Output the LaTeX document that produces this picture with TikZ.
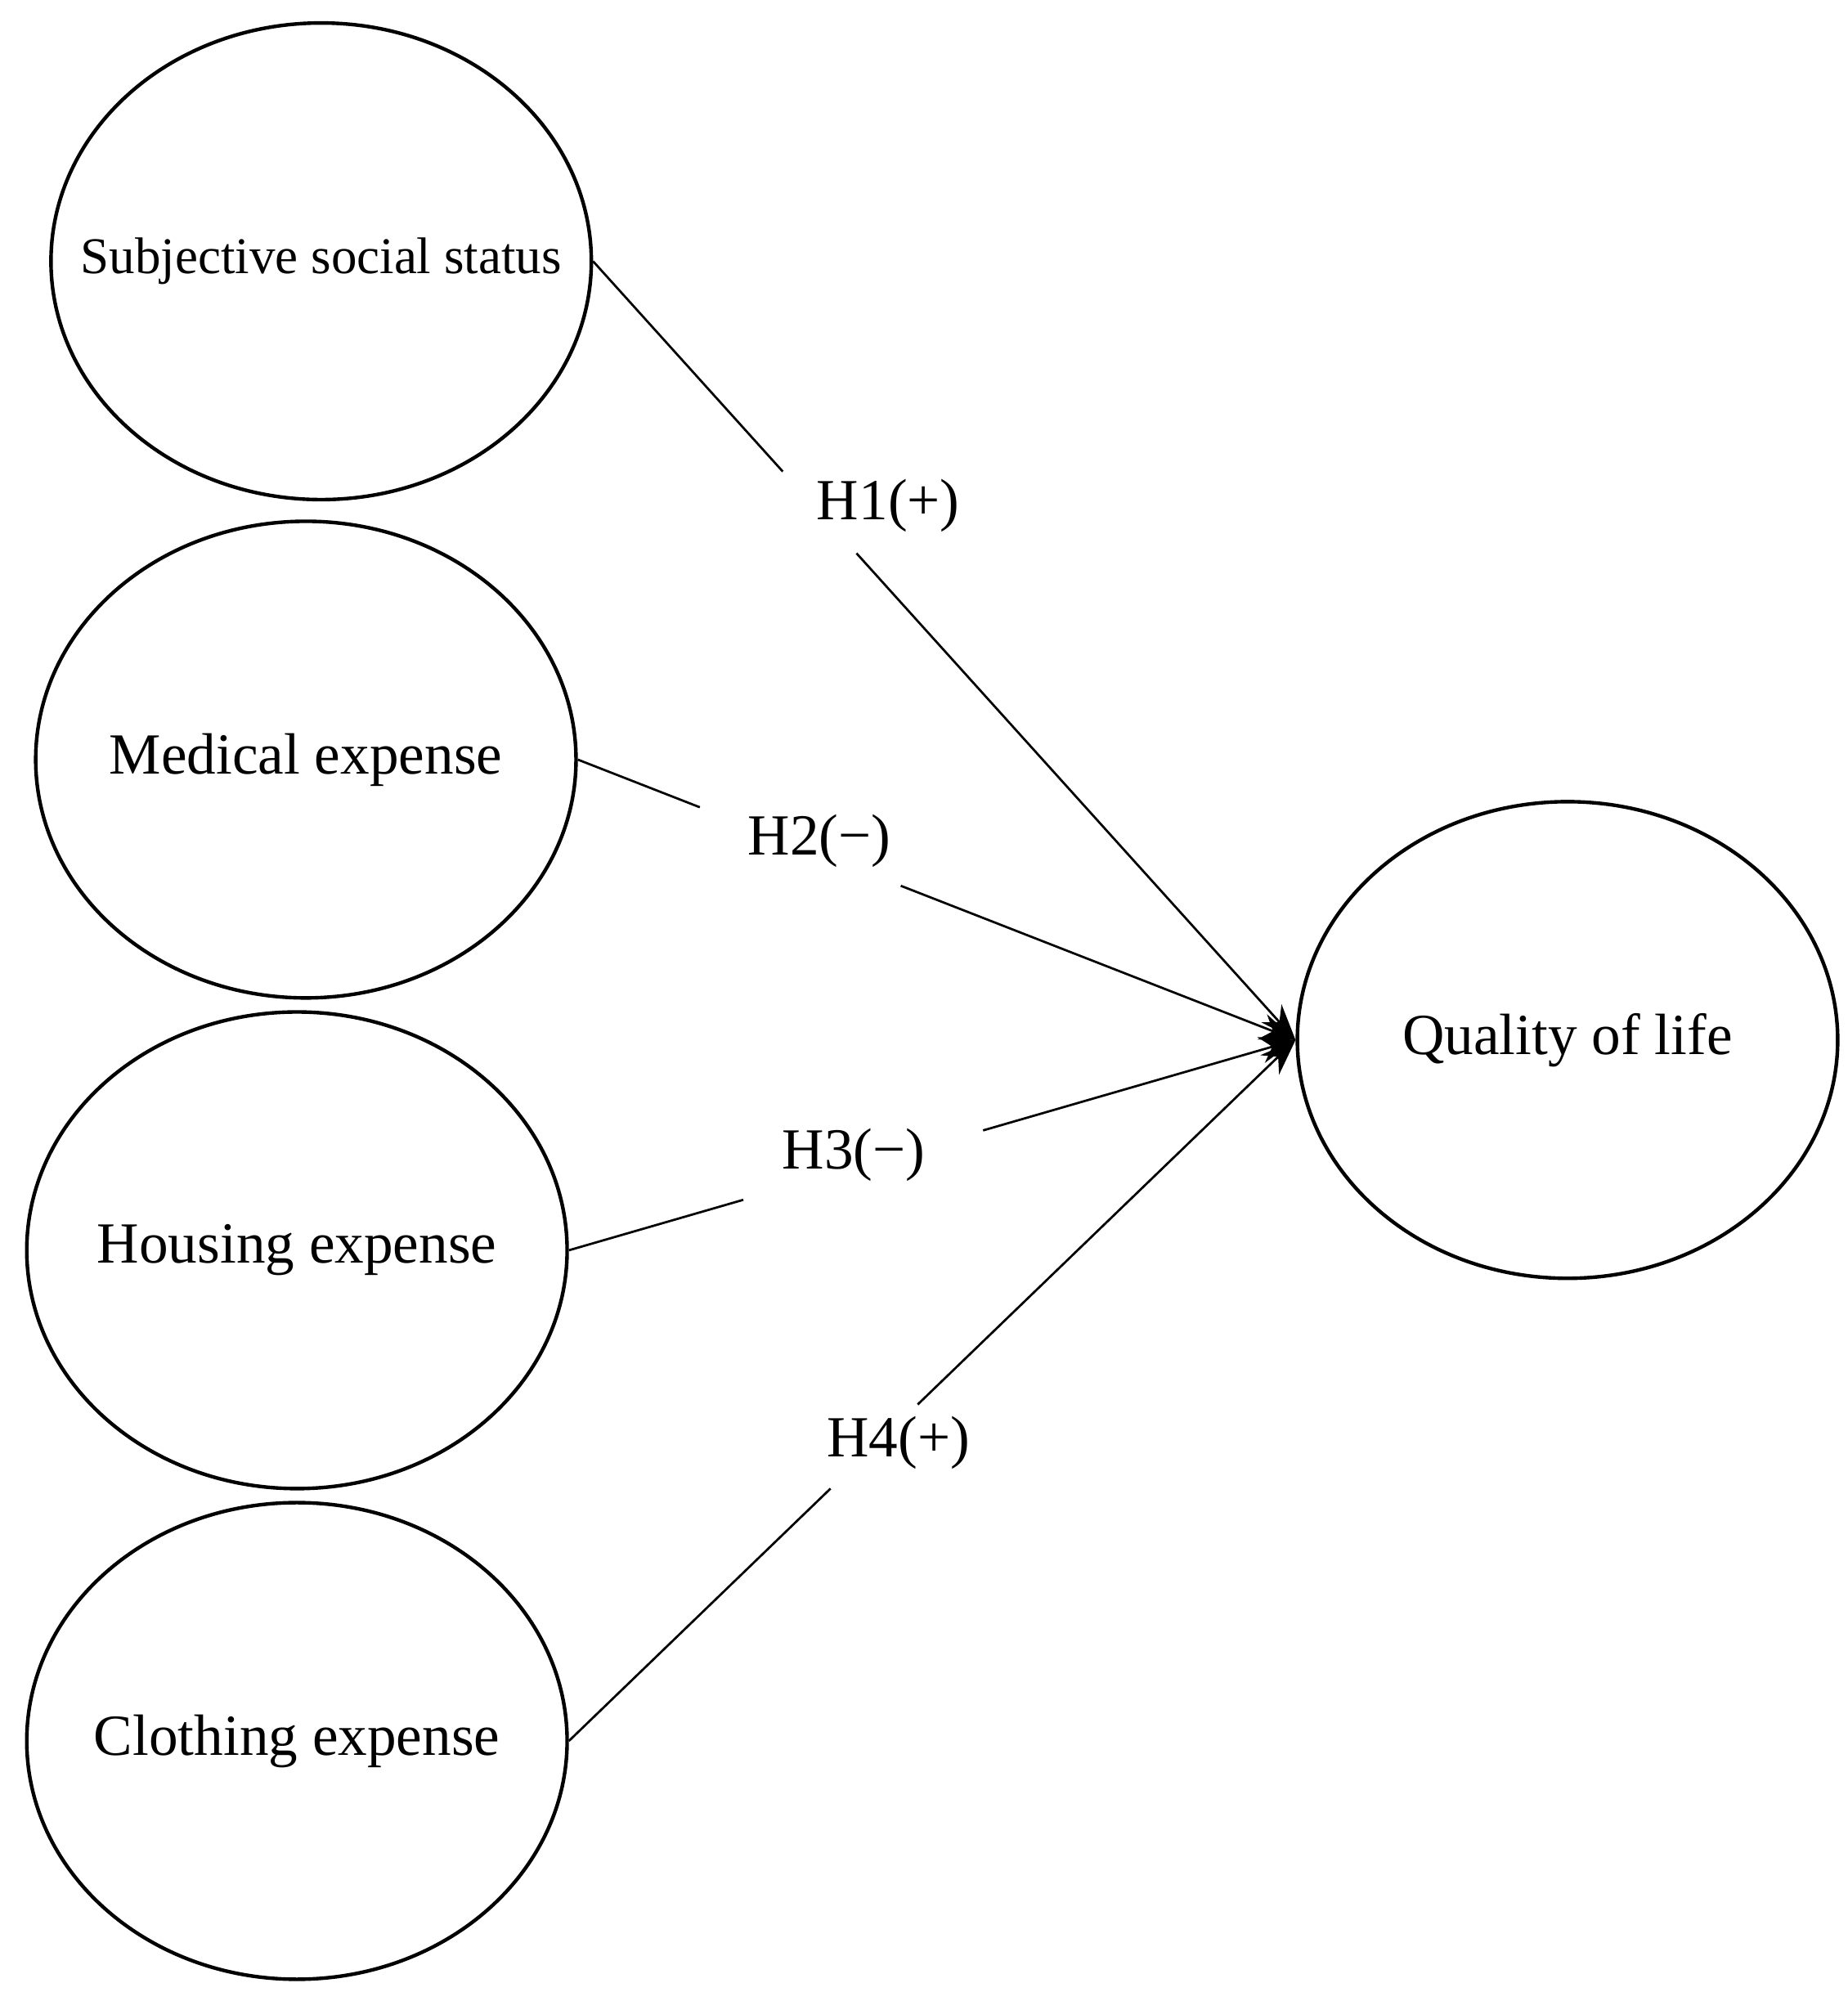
\documentclass[tikz,border=0pt]{standalone}
\usepackage{fontspec}
\setmainfont{Liberation Serif}
\usetikzlibrary{shapes.geometric,calc,arrows.meta}

\tikzset{
  construct/.style={draw, ellipse, thick, minimum width=4.24cm, minimum height=3.74cm, inner sep=0pt,
    label={[font=\fontsize{13}{15}\selectfont]center:#1}},
  hyp/.style={font=\fontsize{13}{15}\selectfont},
  path/.style={draw, line width=0.5pt}
}

\begin{document}
\begin{tikzpicture}
\useasboundingbox (0,0) rectangle (14.5,-15.63);
% constructs
\node[draw, ellipse, thick, minimum width=4.24cm, minimum height=3.74cm, inner sep=0pt,
  label={[font=\fontsize{11.5}{14}\selectfont]center:Subjective social status}] (sss) at (2.52,-2.05) {};
\node[construct=Medical expense] (med) at (2.40,-5.96) {};
\node[construct=Housing expense] (hou) at (2.33,-9.81) {};
\node[construct=Clothing expense] (clo) at (2.33,-13.66) {};
\node[construct=Quality of life] (qol) at (12.30,-8.16) {};
\coordinate (tip) at (qol.west);
% hypotheses
\node[hyp] (h1) at (6.97,-3.97) {H1(+)};
\node[hyp] (h2) at (6.43,-6.60) {H2(−)};
\node[hyp] (h3) at (6.70,-9.06) {H3(−)};
\node[hyp] (h4) at (7.05,-11.32) {H4(+)};
% paths with gaps for labels
\draw[path] (sss.east) -- ($(sss.east)!0.27!(tip)$);
\draw[path, -{Stealth[length=8pt,width=6pt]}] ($(sss.east)!0.375!(tip)$) -- (tip);
\draw[path] (med.east) -- ($(med.east)!0.17!(tip)$);
\draw[path, -{Stealth[length=8pt,width=6pt]}] ($(med.east)!0.45!(tip)$) -- (tip);
\draw[path] (hou.east) -- ($(hou.east)!0.24!(tip)$);
\draw[path, -{Stealth[length=8pt,width=6pt]}] ($(hou.east)!0.57!(tip)$) -- (tip);
\draw[path] (clo.east) -- ($(clo.east)!0.36!(tip)$);
\draw[path, -{Stealth[length=8pt,width=6pt]}] ($(clo.east)!0.48!(tip)$) -- (tip);
\end{tikzpicture}
\end{document}
